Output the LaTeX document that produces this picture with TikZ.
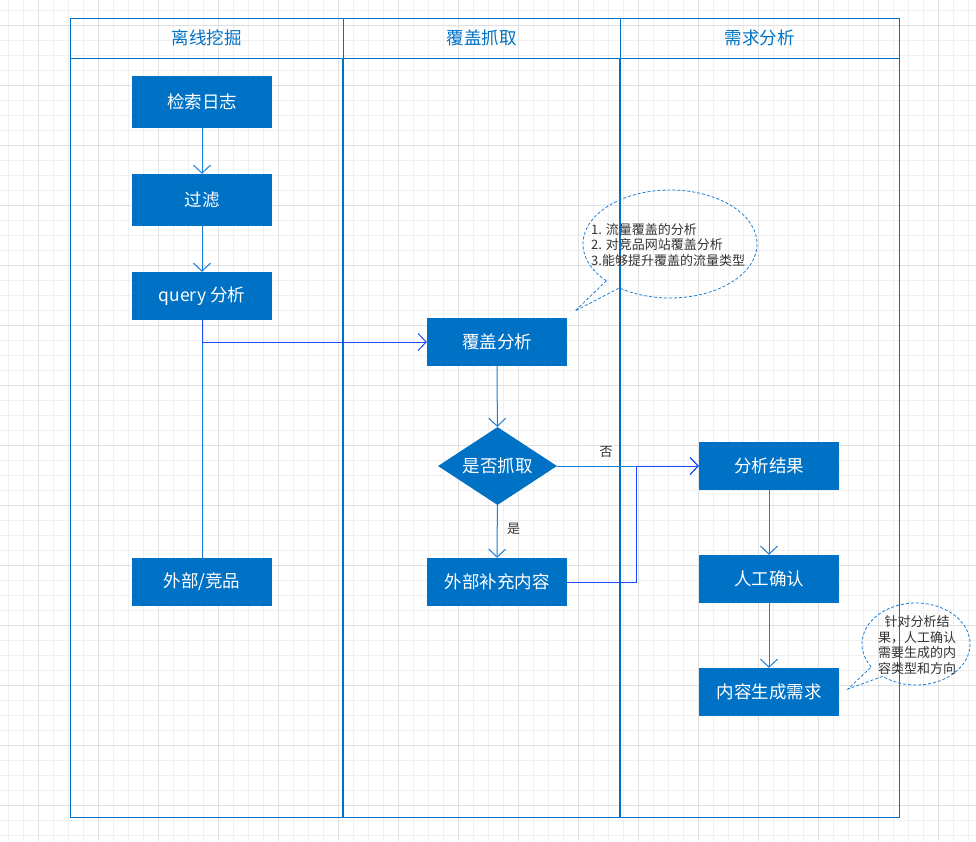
\documentclass[tikz,border=0pt]{standalone}
\usepackage{fontspec}
\setmainfont{Noto Sans CJK SC}
\usetikzlibrary{shapes.geometric,arrows.meta}
\definecolor{boxblue}{RGB}{0,114,198}
\definecolor{laneblue}{RGB}{0,114,198}
\definecolor{linkblue}{RGB}{28,126,214}
\definecolor{crossblue}{RGB}{24,72,255}
\definecolor{minorgrid}{RGB}{240,240,240}
\definecolor{majorgrid}{RGB}{224,224,224}
\definecolor{txtgray}{RGB}{51,51,51}
\definecolor{calloutblue}{RGB}{30,128,214}
\tikzset{
  procbox/.style={fill=boxblue, text=white, minimum width=140pt, minimum height=48pt, inner sep=0pt, font=\fontsize{17.5}{20}\selectfont},
  decbox/.style={shape=diamond, fill=boxblue, text=white, minimum width=119pt, minimum height=78pt, aspect=1.5, inner sep=0pt, font=\fontsize{17.5}{20}\selectfont},
  link/.style={draw=linkblue, line width=1pt, -{Straight Barb[length=8pt,width=17pt]}},
  crosslink/.style={draw=crossblue, line width=1pt, -{Straight Barb[length=8pt,width=17pt]}},
  plainlink/.style={draw=linkblue, line width=1pt},
  lanetitle/.style={text=laneblue, font=\fontsize{17.5}{20}\selectfont},
  edgelabel/.style={text=txtgray, font=\fontsize{13}{15}\selectfont},
  callout/.style={draw=calloutblue, line width=0.8pt, dash pattern=on 3pt off 2pt},
  callouttext/.style={text=txtgray, font=\fontsize{13}{15.5}\selectfont, inner sep=0pt}
}
\begin{document}
\begin{tikzpicture}[x=1pt,y=-1pt]
\useasboundingbox (0,0) rectangle (976,841);
\fill[white] (0,0) rectangle (976,841);
% grid
\foreach \x in {8,23,...,975} \draw[minorgrid, line width=1pt] (\x,0) -- (\x,841);
\foreach \y in {10,25,...,840} \draw[minorgrid, line width=1pt] (0,\y) -- (976,\y);
\foreach \x in {38,98,...,975} \draw[majorgrid, line width=1pt] (\x,0) -- (\x,841);
\foreach \y in {25,85,...,840} \draw[majorgrid, line width=1pt] (0,\y) -- (976,\y);
% pool
\draw[laneblue, line width=1pt] (70,18) rectangle (899,817);
\draw[laneblue, line width=1pt] (70,58) -- (899,58);
\draw[laneblue, line width=1pt] (343,18) -- (343,58);
\draw[laneblue, line width=1pt] (620,18) -- (620,58);
\draw[laneblue, line width=2pt] (343,58) -- (343,817);
\draw[laneblue, line width=2pt] (620,58) -- (620,817);
\node[lanetitle] (t1) at (206.5,38) {离线挖掘};
\node[lanetitle] (t2) at (481.5,38) {覆盖抓取};
\node[lanetitle] (t3) at (759.5,38) {需求分析};
% nodes
\node[procbox, minimum height=52pt] (log) at (202,102) {检索日志};
\node[procbox, minimum height=52pt] (filt) at (202,200) {过滤};
\node[procbox] (query) at (202,296) {query 分析};
\node[procbox] (ext) at (202,582) {外部/竞品};
\node[procbox] (cov) at (497,342) {覆盖分析};
\node[decbox] (dec) at (497.5,466) {是否抓取};
\node[procbox] (supp) at (497,582) {外部补充内容};
\node[procbox] (res) at (769,466) {分析结果};
\node[procbox] (conf) at (769,579) {人工确认};
\node[procbox] (need) at (769,692) {内容生成需求};
% connectors
\draw[link] (log) -- (filt);
\draw[link] (filt) -- (query);
\draw[plainlink] (query) -- (ext);
\draw[crosslink] (query.south) |- (cov.west);
\draw[link] (cov) -- (dec);
\draw[link] (dec) -- node[edgelabel, right=6pt, pos=0.45] {是} (supp);
\draw[link] (dec.east) -- (res.west);
\node[edgelabel] (no) at (606,452) {否};
\coordinate (bend) at (636,582);
\draw[crosslink] (supp.east) -- (bend) |- (res.west);
\draw[link] (res) -- (conf);
\draw[link] (conf) -- (need);
% callout 1
\draw[callout] plot[domain=137:485.6, samples=120] ({670+87*cos(\x)}, {244+54*sin(\x)}) -- (575,311) -- cycle;
\node[callouttext, anchor=west, align=left] (c1) at (591,245) {1. 流量覆盖的分析\\2. 对竞品网站覆盖分析\\3.能够提升覆盖的流量类型};
% callout 2
\draw[callout] plot[domain=146:488, samples=120] ({916+54*cos(\x)}, {644+41*sin(\x)}) -- (848,689) -- cycle;
\node[callouttext, align=center] (c2) at (917,645) {针对分析结\\果，人工确认\\需要生成的内\\容类型和方向};
\end{tikzpicture}
\end{document}
